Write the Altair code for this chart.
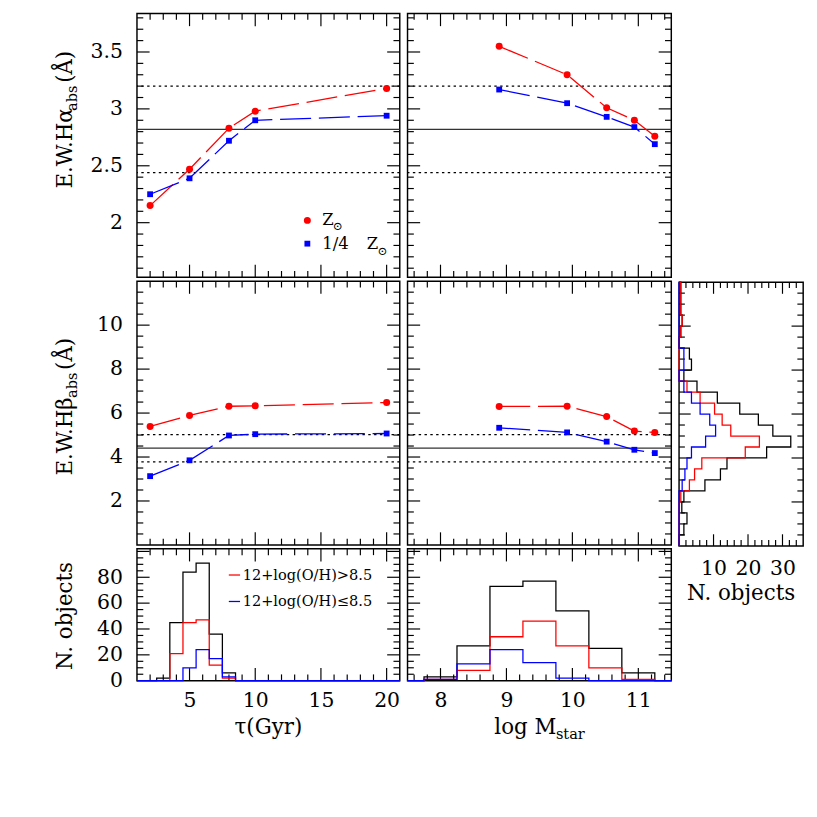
import altair as alt
import numpy as np
import pandas as pd

FONT = "DejaVu Serif"
RED = "#ff0000"
BLUE = "#0000ff"
GREY = "#333333"

# ---------------- data ----------------
tau = [2, 5, 8, 10, 20]
ha_tau_sun = [2.15, 2.47, 2.83, 2.98, 3.18]
ha_tau_q = [2.25, 2.39, 2.72, 2.90, 2.94]
hb_tau_sun = [5.39, 5.89, 6.31, 6.33, 6.48]
hb_tau_q = [3.13, 3.85, 4.98, 5.04, 5.07]

logm = [8.89, 9.92, 10.52, 10.94, 11.25]
ha_m_sun = [3.55, 3.30, 3.01, 2.90, 2.76]
ha_m_q = [3.17, 3.05, 2.93, 2.84, 2.69]
hb_m_sun = [6.30, 6.31, 5.84, 5.18, 5.12]
hb_m_q = [5.33, 5.12, 4.70, 4.33, 4.18]

ha_obs = [2.44, 2.82, 3.20]   # mean - sigma, mean, mean + sigma
hb_obs = [3.78, 4.40, 5.02]

tau_edges = [2.5, 3.5, 4.5, 5.5, 6.5, 7.5, 8.5]
tau_all = [2, 45, 84, 91, 36, 6]
tau_hi = [0, 21, 45, 47, 12, 2]
tau_lo = [0, 0, 10, 24, 17, 3]

m_edges = [7.75, 8.25, 8.75, 9.25, 9.75, 10.25, 10.75, 11.25]
m_all = [3, 27, 73, 77, 54, 25, 6]
m_hi = [1, 8, 34, 46, 27, 10, 1]
m_lo = [1, 13, 24, 14, 2, 0, 0]

hb_edges = [0, 0.5, 1, 1.5, 2, 2.5, 3, 3.5, 4, 4.5, 5, 5.5, 6, 6.5, 7, 7.5, 8,
            8.5, 9, 9.5, 10, 10.5, 11, 11.5, 12]
hb_all = [0, 1.4, 2.3, 0.8, 1.4, 7.5, 12.0, 13.9, 25.4, 32.4, 27.2, 23.0, 17.6,
          11.1, 5.2, 1.4, 3.6, 3.0, 0, 0.5, 0.9, 0.5, 0.5, 0.5]
hb_hi = [0, 0, 0, 0, 0.5, 3.0, 4.5, 6.6, 19.2, 23.3, 15.0, 12.5, 10.3, 6.1, 2.3,
         0, 0, 0, 0, 0.5, 0.9, 0.5, 0.5, 0.5]
hb_lo = [0, 0, 0, 0, 0, 0.9, 1.7, 2.3, 3.6, 7.7, 10.6, 8.9, 6.1, 3.6, 1.4, 0,
         1.4, 1.4, 0, 0, 0, 0, 0, 0]

ha_labels = [2, 2.5, 3, 3.5]
hb_labels = [2, 4, 6, 8, 10]
n_labels = [0, 20, 40, 60, 80]
tau_labels = [5, 10, 15, 20]
m_labels = [8, 9, 10, 11]
nh_labels = [10, 20, 30]

# ---------------- layout constants ----------------
W1, W2, W3 = 271, 272, 128
H1, H2, H3 = 272, 272, 136
HA_DOM = [1.52, 3.838]
TMAJ, TMIN = 13, 6.5
LBL = 21
TTL = 22
DASH = [32, 8]
DOT = [2.5, 3.5]
ONE = pd.DataFrame({"o": [0]})


def rng(a, b, s, excl):
    vals = np.round(np.arange(a, b + s / 2, s), 4)
    return [float(v) for v in vals if not any(abs(v - e) < 1e-6 for e in excl)]


tau_t = ([5, 10, 15, 20], rng(2, 20, 1, [5, 10, 15, 20]))
m_t = ([8, 9, 10, 11], rng(7.6, 11.4, 0.2, [8, 9, 10, 11]))
ha_t = ([2, 2.5, 3, 3.5], rng(1.6, 3.8, 0.1, [2, 2.5, 3, 3.5]))
hb_t = ([2, 4, 6, 8, 10], rng(0.5, 11.5, 0.5, [2, 4, 6, 8, 10]))
n_t = ([20, 40, 60, 80, 100], rng(5, 100, 5, [20, 40, 60, 80, 100]))
nh_t = ([10, 20, 30], rng(2, 34, 2, [10, 20, 30]))


def lab_axis(values, pad):
    return alt.Axis(values=values, labelExpr="datum.value", ticks=False, tickSize=0,
                    domain=False, grid=False, labelFont=FONT, labelFontSize=LBL,
                    labelColor="black", labelPadding=pad, labelFlush=False,
                    labelOverlap=False, title=None)


def txt(s, x, y, size, angle=0, align="left", color="black"):
    return alt.Chart(ONE).mark_text(text=s, font=FONT, fontSize=size, angle=angle,
                                    align=align, baseline="middle", color=color).encode(
        x=alt.value(x), y=alt.value(y))


def ytitle(parts, yc, cx=-74):
    total = sum(p[2] for p in parts)
    y = yc + total / 2
    out = []
    for s, size, w, shift in parts:
        out.append(txt(s, cx + shift, y, size, angle=270))
        y -= w
    return out


def panel(W, H, xdom, ydom, xt, yt, content, xaxis=None, yaxis=None,
          tmaj=TMAJ, tmin=TMIN):
    xs = alt.Scale(domain=xdom, nice=False, zero=False)
    ys = alt.Scale(domain=ydom, nice=False, zero=False)

    def X(f):
        return alt.X(f, type="quantitative", scale=xs, axis=xaxis)

    def Y(f):
        return alt.Y(f, type="quantitative", scale=ys, axis=yaxis)

    layers = []
    for vals, L in ((xt[0], tmaj), (xt[1], tmin)):
        base = alt.Chart(pd.DataFrame({"v": vals})).mark_rule(color="black", strokeWidth=1.2)
        layers.append(base.encode(x=X("v"), y=alt.value(H), y2=alt.value(H - L)))
        layers.append(base.encode(x=X("v"), y=alt.value(0), y2=alt.value(L)))
    for vals, L in ((yt[0], tmaj), (yt[1], tmin)):
        base = alt.Chart(pd.DataFrame({"v": vals})).mark_rule(color="black", strokeWidth=1.2)
        layers.append(base.encode(y=Y("v"), x=alt.value(0), x2=alt.value(L)))
        layers.append(base.encode(y=Y("v"), x=alt.value(W), x2=alt.value(W - L)))
    layers += content(X, Y)
    return alt.layer(*layers).properties(width=W, height=H)


def refs(Y, obs):
    solid = alt.Chart(pd.DataFrame({"v": [obs[1]]})).mark_rule(
        color=GREY, strokeWidth=1.3).encode(y=Y("v"))
    dots = alt.Chart(pd.DataFrame({"v": [obs[0], obs[2]]})).mark_rule(
        color="black", strokeWidth=1.3, strokeDash=DOT).encode(y=Y("v"))
    return [solid, dots]


def series(X, Y, xs, sun, q):
    d = pd.DataFrame({"x": xs, "s": sun, "q": q})
    return [
        alt.Chart(d).mark_line(color=RED, strokeWidth=1.3, strokeDash=DASH).encode(x=X("x"), y=Y("s")),
        alt.Chart(d).mark_line(color=BLUE, strokeWidth=1.3, strokeDash=DASH).encode(x=X("x"), y=Y("q")),
        alt.Chart(d).mark_circle(color=RED, size=52, opacity=1).encode(x=X("x"), y=Y("s")),
        alt.Chart(d).mark_square(color=BLUE, size=36, opacity=1).encode(x=X("x"), y=Y("q")),
    ]


def steps_x(X, Y, edges, counts, color, lo, hi):
    xs = [lo] + list(edges) + [hi]
    ys = [0] + list(counts) + [0, 0]
    d = pd.DataFrame({"x": xs, "y": ys, "i": list(range(len(xs)))})
    return alt.Chart(d).mark_line(color=color, strokeWidth=1.3, interpolate="step-after").encode(
        x=X("x"), y=Y("y"), order=alt.Order("i:Q"))


def steps_y(X, Y, edges, counts, color):
    xs = [0] + list(counts) + [0]
    ys = [edges[0]] + list(edges[1:]) + [edges[-1]]
    d = pd.DataFrame({"x": xs, "y": ys, "i": list(range(len(xs)))})
    return alt.Chart(d).mark_line(color=color, strokeWidth=1.3, interpolate="step-after").encode(
        x=X("x"), y=Y("y"), order=alt.Order("i:Q"))


def c_tl(X, Y):
    out = refs(Y, ha_obs) + series(X, Y, tau, ha_tau_sun, ha_tau_q)
    out += [
        alt.Chart(ONE).mark_circle(color=RED, size=52, opacity=1).encode(x=alt.value(175.7), y=alt.value(213.3)),
        alt.Chart(ONE).mark_square(color=BLUE, size=36, opacity=1).encode(x=alt.value(175.7), y=alt.value(237.3)),
        txt("Z", 191, 212.6, 17), txt("\u2299", 202, 219.5, 12),
        txt("1/4", 191, 237.5, 17), txt("Z", 237, 237.5, 17), txt("\u2299", 248, 244.5, 12),
    ]
    out += ytitle([("E.W.H\u03b1", TTL, 80, 0), ("abs", 15, 29, 7), (" (\u00c5)", TTL, 40, 0)], 106)
    return out


def c_tr(X, Y):
    return refs(Y, ha_obs) + series(X, Y, logm, ha_m_sun, ha_m_q)


def c_ml(X, Y):
    out = refs(Y, hb_obs) + series(X, Y, tau, hb_tau_sun, hb_tau_q)
    out += ytitle([("E.W.H\u03b2", TTL, 80, 0), ("abs", 15, 29, 7), (" (\u00c5)", TTL, 40, 0)], 126)
    return out


def c_mr(X, Y):
    return refs(Y, hb_obs) + series(X, Y, logm, hb_m_sun, hb_m_q)


def c_bl(X, Y):
    out = [steps_x(X, Y, tau_edges, tau_all, "black", 1, 21),
           steps_x(X, Y, tau_edges, tau_hi, RED, 1, 21),
           steps_x(X, Y, tau_edges, tau_lo, BLUE, 1, 21)]
    out += [
        alt.Chart(ONE).mark_rule(color=RED, strokeWidth=1.3).encode(x=alt.value(94.7), x2=alt.value(106.3), y=alt.value(27)),
        txt("12+log(O/H)>8.5", 109, 27, 15),
        alt.Chart(ONE).mark_rule(color=BLUE, strokeWidth=1.3).encode(x=alt.value(94.7), x2=alt.value(106.3), y=alt.value(54.3)),
        txt("12+log(O/H)\u22648.5", 109, 54.3, 15),
        txt("\u03c4(Gyr)", W1 / 2, H3 + 48, TTL, align="center"),
    ]
    out += ytitle([("N. objects", TTL, 110, 0)], 70)
    return out


def c_br(X, Y):
    out = [steps_x(X, Y, m_edges, m_all, "black", 7.5, 11.5),
           steps_x(X, Y, m_edges, m_hi, RED, 7.5, 11.5),
           steps_x(X, Y, m_edges, m_lo, BLUE, 7.5, 11.5)]
    out += [txt("log M", 89.5, H3 + 48, TTL), txt("star", 153, H3 + 55, 15)]
    return out


def c_hist(X, Y):
    return [steps_y(X, Y, hb_edges, hb_all, "black"),
            steps_y(X, Y, hb_edges, hb_hi, RED),
            steps_y(X, Y, hb_edges, hb_lo, BLUE),
            txt("N. objects", W3 / 2, H2 + 49, TTL, align="center")]


TL = panel(W1, H1, [1, 21], HA_DOM, tau_t, ha_t, c_tl, yaxis=lab_axis(ha_labels, 15))
ML = panel(W1, H2, [1, 21], [0, 12], tau_t, hb_t, c_ml, yaxis=lab_axis(hb_labels, 15))
BL = panel(W1, H3, [1, 21], [0, 102], tau_t, n_t, c_bl,
           xaxis=lab_axis(tau_labels, 10), yaxis=lab_axis(n_labels, 15))
TR = panel(W2, H1, [7.5, 11.5], HA_DOM, m_t, ha_t, c_tr)
MR = panel(W2, H2, [7.5, 11.5], [0, 12], m_t, hb_t, c_mr)
BR = panel(W2, H3, [7.5, 11.5], [0, 102], m_t, n_t, c_br, xaxis=lab_axis(m_labels, 10))
HI = panel(W3, H2, [0, 36], [0, 12], nh_t, hb_t, c_hist, xaxis=lab_axis(nh_labels, 12), tmaj=12, tmin=6)

spacer = alt.Chart(ONE).mark_rule(strokeOpacity=0).encode(
    x=alt.value(5), y=alt.value(5), y2=alt.value(10)).properties(
    width=W3, height=H1, view=alt.ViewBackground(stroke="transparent"))

col1 = alt.vconcat(TL, ML, BL, spacing=0)
col2 = alt.vconcat(TR, MR, BR, spacing=0)
col3 = alt.vconcat(spacer, HI, spacing=0)

chart = alt.hconcat(col1, col2, col3, spacing=0).properties(
    padding={"left": 47, "top": -8, "right": 4, "bottom": 4}
).configure_view(stroke="black", strokeWidth=1.5).configure_concat(spacing=0)

chart.save("out.html", embed_options={"renderer": "svg", "actions": False})
